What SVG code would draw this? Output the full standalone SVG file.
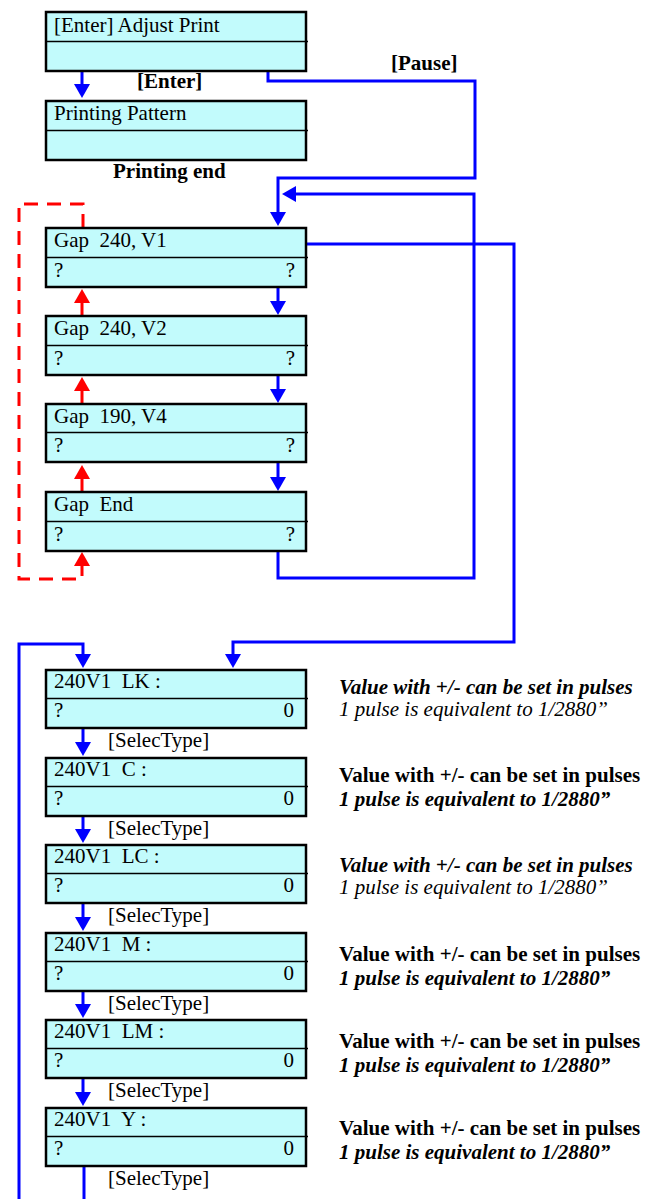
<svg xmlns="http://www.w3.org/2000/svg" width="647" height="1199" viewBox="0 0 647 1199">
<style>
text{font-family:"Liberation Serif","Times New Roman",serif;font-size:21px;fill:#000}
.b{font-weight:bold}
.bi{font-weight:bold;font-style:italic}
.i{font-style:italic}
.box{fill:#C2FBFC;stroke:#000;stroke-width:2.5}
.div{stroke:#000;stroke-width:1.3}
.blue{fill:none;stroke:#0000FF;stroke-width:3}
.red{fill:none;stroke:#FF0000;stroke-width:3;stroke-dasharray:14 9}
.redsolid{fill:none;stroke:#FF0000;stroke-width:3}
</style>
<defs>
<marker id="ab" viewBox="0 0 14 16" refX="0" refY="8" markerWidth="14" markerHeight="16" markerUnits="userSpaceOnUse" orient="auto"><path d="M0,0 L14,8 L0,16 z" fill="#0000FF"/></marker>
<marker id="ar" viewBox="0 0 14 16" refX="0" refY="8" markerWidth="14" markerHeight="16" markerUnits="userSpaceOnUse" orient="auto"><path d="M0,0 L14,8 L0,16 z" fill="#FF0000"/></marker>
</defs>

<g id="connectors">
<!-- blue -->
<path class="blue" d="M82,71 V84" marker-end="url(#ab)"/>
<path class="blue" d="M268,71 V81 H475 V178 H278 V212" marker-end="url(#ab)"/>
<path class="blue" d="M278,551 V578 H474 V194 H296" marker-end="url(#ab)"/>
<path class="blue" d="M278,287 V301" marker-end="url(#ab)"/>
<path class="blue" d="M278,375 V389" marker-end="url(#ab)"/>
<path class="blue" d="M278,462 V477" marker-end="url(#ab)"/>
<path class="blue" d="M306,244 H514 V642 H233 V654" marker-end="url(#ab)"/>
<path class="blue" d="M19,1199 V644 H83 V654" marker-end="url(#ab)"/>
<path class="blue" d="M83,728 V742" marker-end="url(#ab)"/>
<path class="blue" d="M83,816 V829" marker-end="url(#ab)"/>
<path class="blue" d="M83,903 V917" marker-end="url(#ab)"/>
<path class="blue" d="M83,991 V1004" marker-end="url(#ab)"/>
<path class="blue" d="M83,1078 V1092" marker-end="url(#ab)"/>
<path class="blue" d="M84,1166 V1199"/>
<!-- red dashed -->
<path class="red" d="M83,228 V204 H19 V579 H82 V567"/>
<path class="redsolid" d="M82,567 V566" marker-end="url(#ar)"/>
<path class="red" d="M82,316 V303" marker-end="url(#ar)"/>
<path class="red" d="M82,404 V391" marker-end="url(#ar)"/>
<path class="red" d="M82,492 V479" marker-end="url(#ar)"/>
</g>

<g id="labels">
<text class="b" x="137" y="88">[Enter]</text>
<text class="b" x="391" y="70">[Pause]</text>
<text class="b" x="113" y="178">Printing end</text>
</g>

<g id="adjust-print">
<rect class="box" x="46" y="12" width="260" height="59"/>
<line class="div" x1="46" y1="41.5" x2="308" y2="41.5"/>
<text x="54" y="32">[Enter] Adjust Print</text>
</g>
<g id="printing-pattern">
<rect class="box" x="46" y="101" width="260" height="59"/>
<line class="div" x1="46" y1="130.5" x2="308" y2="130.5"/>
<text x="54" y="120">Printing Pattern</text>
</g>

<g id="gap-240-v1">
<rect class="box" x="46" y="228" width="260" height="59"/>
<line class="div" x1="46" y1="257.5" x2="308" y2="257.5"/>
<text x="54" y="247" xml:space="preserve">Gap  240, V1</text>
<text x="54" y="277">?</text><text x="295" y="277" text-anchor="end">?</text>
</g>
<g id="gap-240-v2">
<rect class="box" x="46" y="316" width="260" height="59"/>
<line class="div" x1="46" y1="345.5" x2="308" y2="345.5"/>
<text x="54" y="335" xml:space="preserve">Gap  240, V2</text>
<text x="54" y="365">?</text><text x="295" y="365" text-anchor="end">?</text>
</g>
<g id="gap-190-v4">
<rect class="box" x="46" y="404" width="260" height="58"/>
<line class="div" x1="46" y1="432.5" x2="308" y2="432.5"/>
<text x="54" y="423" xml:space="preserve">Gap  190, V4</text>
<text x="54" y="452">?</text><text x="295" y="452" text-anchor="end">?</text>
</g>
<g id="gap-end">
<rect class="box" x="46" y="492" width="260" height="59"/>
<line class="div" x1="46" y1="521.5" x2="308" y2="521.5"/>
<text x="54" y="511" xml:space="preserve">Gap  End</text>
<text x="54" y="541">?</text><text x="295" y="541" text-anchor="end">?</text>
</g>

<g id="lk">
<rect class="box" x="46" y="670" width="260" height="58"/>
<line class="div" x1="46" y1="698.5" x2="308" y2="698.5"/>
<text x="54" y="688" xml:space="preserve">240V1  LK :</text>
<text x="54" y="717">?</text><text x="294" y="717" text-anchor="end">0</text>
<text x="108" y="747">[SelecType]</text>
</g>
<g id="c">
<rect class="box" x="46" y="758" width="260" height="58"/>
<line class="div" x1="46" y1="786.5" x2="308" y2="786.5"/>
<text x="54" y="776" xml:space="preserve">240V1  C :</text>
<text x="54" y="805">?</text><text x="294" y="805" text-anchor="end">0</text>
<text x="108" y="835">[SelecType]</text>
</g>
<g id="lc">
<rect class="box" x="46" y="845" width="260" height="58"/>
<line class="div" x1="46" y1="873.5" x2="308" y2="873.5"/>
<text x="54" y="863" xml:space="preserve">240V1  LC :</text>
<text x="54" y="892">?</text><text x="294" y="892" text-anchor="end">0</text>
<text x="108" y="922">[SelecType]</text>
</g>
<g id="m">
<rect class="box" x="46" y="933" width="260" height="58"/>
<line class="div" x1="46" y1="961.5" x2="308" y2="961.5"/>
<text x="54" y="951" xml:space="preserve">240V1  M :</text>
<text x="54" y="980">?</text><text x="294" y="980" text-anchor="end">0</text>
<text x="108" y="1010">[SelecType]</text>
</g>
<g id="lm">
<rect class="box" x="46" y="1020" width="260" height="58"/>
<line class="div" x1="46" y1="1048.5" x2="308" y2="1048.5"/>
<text x="54" y="1038" xml:space="preserve">240V1  LM :</text>
<text x="54" y="1067">?</text><text x="294" y="1067" text-anchor="end">0</text>
<text x="108" y="1097">[SelecType]</text>
</g>
<g id="y">
<rect class="box" x="46" y="1108" width="260" height="58"/>
<line class="div" x1="46" y1="1136.5" x2="308" y2="1136.5"/>
<text x="54" y="1126" xml:space="preserve">240V1  Y :</text>
<text x="54" y="1155">?</text><text x="294" y="1155" text-anchor="end">0</text>
<text x="108" y="1185">[SelecType]</text>
</g>

<g id="notes">
<text class="bi" x="339" y="694">Value with +/- can be set in pulses</text>
<text class="i" x="339" y="716">1 pulse is equivalent to 1/2880”</text>
<text class="b" x="339" y="782">Value with +/- can be set in pulses</text>
<text class="bi" x="339" y="806">1 pulse is equivalent to 1/2880”</text>
<text class="bi" x="339" y="872">Value with +/- can be set in pulses</text>
<text class="i" x="339" y="894">1 pulse is equivalent to 1/2880”</text>
<text class="b" x="339" y="961">Value with +/- can be set in pulses</text>
<text class="bi" x="339" y="985">1 pulse is equivalent to 1/2880”</text>
<text class="b" x="339" y="1048">Value with +/- can be set in pulses</text>
<text class="bi" x="339" y="1072">1 pulse is equivalent to 1/2880”</text>
<text class="b" x="339" y="1135">Value with +/- can be set in pulses</text>
<text class="bi" x="339" y="1159">1 pulse is equivalent to 1/2880”</text>
</g>
</svg>
